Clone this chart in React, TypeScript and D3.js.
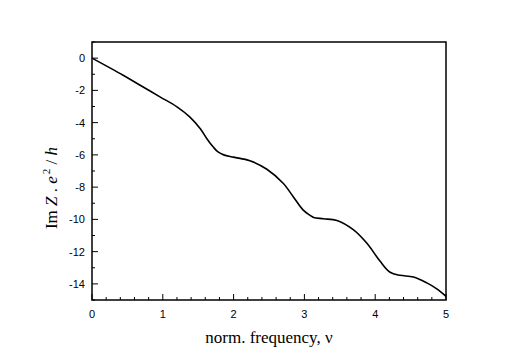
import React, { useEffect, useRef } from 'react';
import * as d3 from 'd3';

// curve: normalised frequency vs Im Z . e^2/h
const nu = [0, 0.44, 0.68, 0.96, 1.2, 1.38, 1.53, 1.62, 1.71, 1.78, 1.86, 2.0, 2.23, 2.47, 2.7, 2.84, 2.98, 3.08, 3.13, 3.27, 3.46, 3.69, 3.88, 4.07, 4.21, 4.35, 4.54, 4.73, 4.87, 5.0];
const imZ = [0, -1.06, -1.68, -2.4, -3.02, -3.64, -4.38, -4.98, -5.5, -5.82, -6.0, -6.14, -6.36, -6.89, -7.76, -8.58, -9.41, -9.75, -9.88, -9.96, -10.07, -10.64, -11.47, -12.6, -13.28, -13.47, -13.57, -13.94, -14.31, -14.77];
const xTicks = [0, 1, 2, 3, 4, 5];
const yTicks = [0, -2, -4, -6, -8, -10, -12, -14];

const W = 518;
const H = 361;

const App = () => {
  const svgRef = useRef(null);

  useEffect(() => {
    const svg = d3.select(svgRef.current);
    svg.selectAll('*').remove();

    const left = 92, right = 446, top = 42, bottom = 300;

    const x = d3.scaleLinear().domain([0, 5]).range([left, right]);
    const y = d3.scaleLinear().domain([-15, 1]).range([bottom, top]);

    const tickFont = "'Liberation Sans', Arial, sans-serif";
    const serif = "'Liberation Serif', 'Times New Roman', serif";

    // minor ticks (inward)
    const xMinor = d3.range(0, 5.001, 0.2).filter(v => Math.abs(v - Math.round(v)) > 0.01);
    svg.append('g').selectAll('line').data(xMinor).join('line')
      .attr('x1', d => x(d)).attr('x2', d => x(d))
      .attr('y1', bottom).attr('y2', bottom - 3)
      .attr('stroke', '#000').attr('stroke-width', 1);
    svg.append('g').selectAll('line').data(xTicks).join('line')
      .attr('x1', d => x(d)).attr('x2', d => x(d))
      .attr('y1', bottom).attr('y2', bottom - 6)
      .attr('stroke', '#000').attr('stroke-width', 1);

    const yMinor = d3.range(-15, 1.001, 2);
    svg.append('g').selectAll('line').data(yMinor).join('line')
      .attr('x1', left).attr('x2', left + 3)
      .attr('y1', d => y(d)).attr('y2', d => y(d))
      .attr('stroke', '#000').attr('stroke-width', 1);
    svg.append('g').selectAll('line').data(yTicks).join('line')
      .attr('x1', left).attr('x2', left + 6)
      .attr('y1', d => y(d)).attr('y2', d => y(d))
      .attr('stroke', '#000').attr('stroke-width', 1);

    // tick labels
    svg.append('g').selectAll('text').data(xTicks).join('text')
      .attr('x', d => x(d)).attr('y', bottom + 18)
      .attr('text-anchor', 'middle')
      .style('font-family', tickFont).style('font-size', '11px')
      .text(d => d);
    svg.append('g').selectAll('text').data(yTicks).join('text')
      .attr('x', left - 7).attr('y', d => y(d) + 4)
      .attr('text-anchor', 'end')
      .style('font-family', tickFont).style('font-size', '11px')
      .text(d => d);

    // curve
    const pts = nu.map((v, i) => [v, imZ[i]]);
    const line = d3.line().x(d => x(d[0])).y(d => y(d[1])).curve(d3.curveCatmullRom.alpha(0.5));
    svg.append('path')
      .datum(pts)
      .attr('d', line)
      .attr('fill', 'none')
      .attr('stroke', '#000')
      .attr('stroke-width', 1.6);

    // frame
    svg.append('rect')
      .attr('x', left).attr('y', top)
      .attr('width', right - left).attr('height', bottom - top)
      .attr('fill', 'none').attr('stroke', '#000').attr('stroke-width', 1.5);

    // x title
    svg.append('text')
      .attr('x', (left + right) / 2).attr('y', 343)
      .attr('text-anchor', 'middle')
      .style('font-family', serif).style('font-size', '17px')
      .text('norm. frequency, ν');

    // y title
    const yt = svg.append('text')
      .attr('transform', `translate(57,188) rotate(-90)`)
      .attr('text-anchor', 'middle')
      .style('font-family', serif).style('font-size', '17px')
      .style('white-space', 'pre');
    yt.append('tspan').text('Im ');
    yt.append('tspan').style('font-style', 'italic').text('Z');
    yt.append('tspan').text(' . ');
    yt.append('tspan').style('font-style', 'italic').text('e');
    yt.append('tspan').attr('dx', 2).attr('dy', -7).style('font-size', '11px').text('2');
    yt.append('tspan').attr('dy', 7).text(' / ');
    yt.append('tspan').style('font-style', 'italic').text('h');
  }, []);

  return (
    <div style={{ position: 'absolute', left: 0, top: 0, background: '#fff' }}>
      <svg ref={svgRef} width={W} height={H}></svg>
    </div>
  );
};

export default App;
